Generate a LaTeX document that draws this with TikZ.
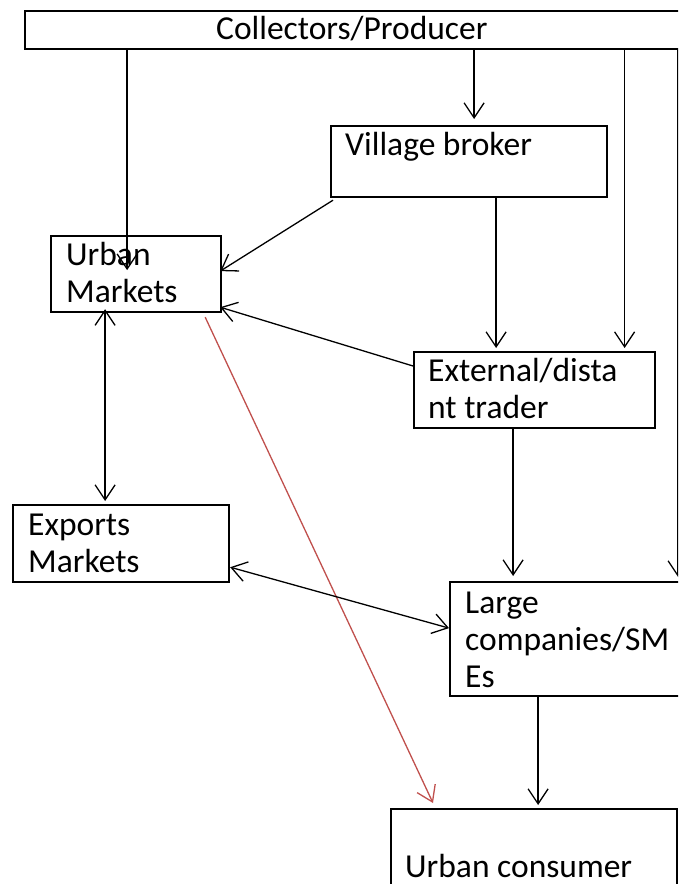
\documentclass[tikz,border=0pt]{standalone}
\usepackage{fontspec}
\setmainfont{Carlito}
\usetikzlibrary{arrows.meta}
\definecolor{flowred}{RGB}{192,80,77}

\begin{document}
\begin{tikzpicture}[x=1pt, y=-1pt]
        \tikzset{
            flow/.style={line width=1.3pt, -{Straight Barb[length=15pt, width=20pt]}}, % open arrow heads
            twoway/.style={line width=1.3pt, {Straight Barb[length=15pt, width=20pt]}-{Straight Barb[length=15pt, width=20pt]}}, % both ways
            box/.style={draw, line width=2.2pt, rectangle, anchor=north west, inner sep=0pt}, % the frames
            boxtext/.style={anchor=base west, align=left, inner sep=0pt, font=\fontsize{33.5}{37}\selectfont}, % text set by its last baseline
            }
        \useasboundingbox (0,0) rectangle (678,884);
        \clip (0,0) rectangle (678,884);

        % boxes
        \node[box, minimum width=666pt, minimum height=38pt] (producer_box) at (24,10) {};
        \node[box, minimum width=276pt, minimum height=71pt] (broker_box) at (330,125) {};
        \node[box, minimum width=170pt, minimum height=76pt] (urban_box) at (50,235) {};
        \node[box, minimum width=241pt, minimum height=76pt] (trader_box) at (413,351) {};
        \node[box, minimum width=216pt, minimum height=77pt] (export_box) at (12,504) {};
        \node[box, minimum width=260pt, minimum height=114pt] (company_box) at (449,581) {};
        \node[box, minimum width=286pt, minimum height=100pt] (consumer_box) at (390,808) {};

        % texts
        \node[boxtext] (producer_text) at (216,39) {Collectors/Producer};
        \node[boxtext] (broker_text) at (345,155) {Village broker};
        \node[boxtext] (urban_text) at (66,302) {Urban\\Markets};
        \node[boxtext] (trader_text) at (428,418) {External/dista\\nt trader};
        \node[boxtext] (export_text) at (28,572) {Exports\\Markets};
        \node[boxtext] (company_text) at (465,687) {Large\\companies/SM\\Es};
        \node[boxtext] (consumer_text) at (405,877) {Urban consumer};

        % producer paths
        \draw[flow] ([xshift=-9pt]urban_box.center |- producer_box.south) -- ([xshift=-9pt, yshift=4pt]urban_box.center);
        \draw[flow] ([xshift=5pt]broker_box.north |- producer_box.south) -- ([xshift=5pt, yshift=6pt]broker_box.north);
        \draw[flow] ([xshift=90pt]trader_box.north |- producer_box.south) -- ([xshift=90pt, yshift=3pt]trader_box.north);
        \draw[flow] ([xshift=98pt]company_box.north |- producer_box.south) -- ([xshift=98pt, yshift=4pt]company_box.north);

        % broker paths
        \draw[flow] ([xshift=3pt, yshift=-2pt]broker_box.south west) -- ([xshift=-2pt, yshift=3pt]urban_box.east);
        \draw[flow, shorten >=3pt] ([xshift=27pt]broker_box.south) -- ([xshift=27pt]broker_box.south |- trader_box.north);

        % trader paths
        \draw[flow] ([yshift=-15pt]trader_box.north west) -- ([xshift=-2pt, yshift=6pt]urban_box.south east);
        \draw[flow, shorten >=5pt] ([xshift=-21.5pt]trader_box.south) -- ([xshift=-21.5pt]trader_box.south |- company_box.north);

        % urban market paths
        \draw[twoway] ([xshift=-31pt, yshift=4pt]urban_box.south) -- ([xshift=-16pt, yshift=3pt]export_box.north);
        \draw[flow, draw=flowred] ([xshift=-17pt, yshift=-4pt]urban_box.south east) -- ([xshift=43pt, yshift=5pt]consumer_box.north west);

        % export and company paths
        \draw[twoway] ([yshift=16pt]export_box.south east) -- ([yshift=11pt]company_box.west);
        \draw[flow, shorten >=3pt] ([xshift=-42pt]company_box.south) -- ([xshift=-42pt]company_box.south |- consumer_box.north);
    \end{tikzpicture}
\end{document}
